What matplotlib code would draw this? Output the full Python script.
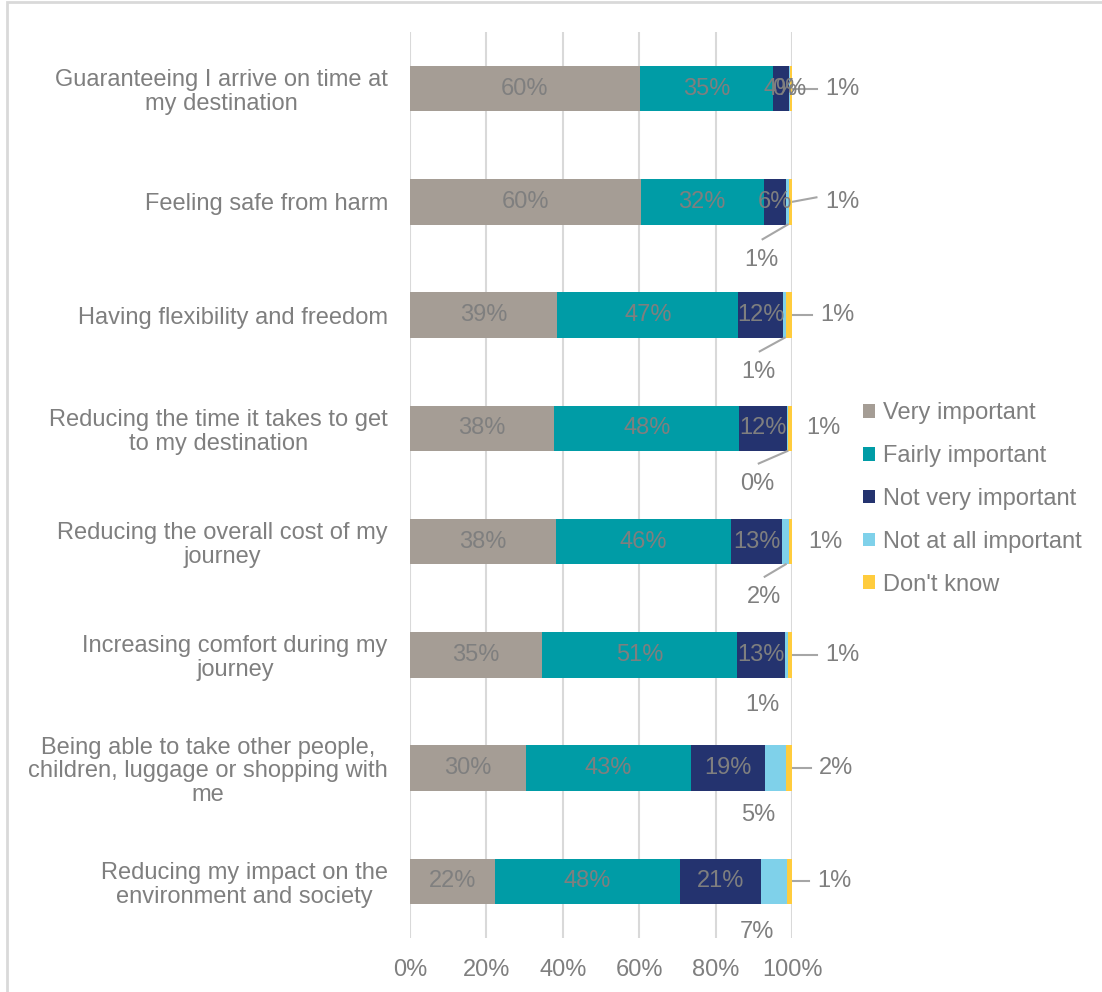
import numpy as np
import matplotlib.pyplot as plt
from matplotlib.patches import Rectangle

# %% data (percent of respondents)
categories = ['Guaranteeing I arrive on time at\nmy destination',
              'Feeling safe from harm',
              'Having flexibility and freedom',
              'Reducing the time it takes to get\nto my destination',
              'Reducing the overall cost of my\njourney',
              'Increasing comfort during my\njourney',
              'Being able to take other people,\nchildren, luggage or shopping with\nme',
              'Reducing my impact on the\nenvironment and society']
series = ['Very important', 'Fairly important', 'Not very important',
          'Not at all important', "Don't know"]
very_important = [60.2, 60.4, 38.6, 37.8, 38.1, 34.6, 30.4, 22.3]
fairly_important = [34.8, 32.2, 47.3, 48.4, 46.0, 51.0, 43.2, 48.4]
not_very_important = [4.2, 5.9, 11.7, 12.4, 13.4, 12.6, 19.4, 21.2]
not_at_all = [0.3, 0.8, 0.9, 0.4, 1.7, 0.8, 5.4, 6.8]
dont_know = [0.7, 0.7, 1.4, 1.0, 0.8, 1.0, 1.6, 1.3]
xticks = [0, 20, 40, 60, 80, 100]

colors = ['#A59D95', '#009CA6', '#24336F', '#7FD1EA', '#FFCC3D']
txt_col = '#7F7F7F'
grid_col = '#D9D9D9'

# label placement (offsets in data units) for the small segments
# not-at-all label below the bar: (dx from segment middle, dy, leader line?)
nat_pos = [None, (-6.9, 0.51, True), (-6.8, 0.5, True), (-7.8, 0.49, True),
           (-5.8, 0.49, True), (-6.3, 0.44, False), (-4.5, 0.41, False),
           (-4.5, 0.45, False)]
# don't-know label right of bar: (gap to text, leader?)
dk_pos = [(8.6, True), (8.6, True), (7.6, True), (3.6, False),
          (4.3, False), (8.8, True), (7.1, True), (6.6, True)]

plt.rcParams['font.family'] = ['Liberation Sans', 'DejaVu Sans']
fs = 17

fig = plt.figure(figsize=[11.02, 9.92], dpi=100)
ax = fig.add_axes([410/1102, 1-938/992, 382/1102, 906/992])

y = np.arange(len(categories))
data = [very_important, fairly_important, not_very_important, not_at_all, dont_know]
left = np.zeros(len(categories))
for vals, c, name in zip(data, colors, series):
    ax.barh(y, vals, left=left, height=0.4, color=c, label=name,
            linewidth=0, zorder=3)
    left = left + np.array(vals)

# labels inside the three big segments
left = np.zeros(len(categories))
for vals in data[:3]:
    for i, v in enumerate(vals):
        ax.text(left[i] + v/2, i, '%d%%' % round(v), ha='center', va='center',
                fontsize=fs, color=txt_col, zorder=4)
    left = left + np.array(vals)

end = left + np.array(not_at_all) + np.array(dont_know)
for i in range(len(categories)):
    # not at all important
    v = not_at_all[i]
    mid = left[i] + v/2
    if nat_pos[i] is None:
        # inside the bar, overlapping the neighbour label as in the original
        ax.text(mid, i, '%d%%' % round(v), ha='center', va='center',
                fontsize=fs, color=txt_col, zorder=4)
    else:
        dx, dy, lead = nat_pos[i]
        tx = mid + dx
        ax.text(tx, i + dy, '%d%%' % round(v), ha='center', va='center',
                fontsize=fs, color=txt_col, zorder=4)
        if lead:
            ax.plot([mid, tx + 0.3], [i + 0.2, i + dy - 0.18], color='#A6A6A6',
                    lw=1.5, clip_on=False, zorder=4)
    # don't know
    v = dont_know[i]
    gap, lead = dk_pos[i]
    ax.text(end[i] + gap, i, '%d%%' % round(v), ha='left', va='center',
            fontsize=fs, color=txt_col, clip_on=False)
    if lead:
        ax.plot([end[i], end[i] + gap - 2.2], [i, i - (0.04 if i == 1 else 0)],
                color='#A6A6A6', lw=1.5, clip_on=False)

ax.set_xlim(0, 100)
ax.set_ylim(7.5, -0.5)
ax.set_xticks(xticks)
ax.set_xticklabels(['%d%%' % t for t in xticks])
ax.set_yticks(y)
ax.set_yticklabels(categories)
for lab in ax.get_yticklabels():
    lab.set_multialignment('center')
    lab.set_linespacing(1.1)
ax.tick_params(axis='both', length=0, labelsize=fs, labelcolor=txt_col)
ax.tick_params(axis='x', pad=15)
ax.tick_params(axis='y', pad=16)
ax.grid(axis='x', color=grid_col, lw=1.5, zorder=0)
for s in ax.spines.values():
    s.set_visible(False)

leg = fig.legend(loc='center left', bbox_to_anchor=(863/1102, 1-499/992),
                 frameon=False, fontsize=fs, labelcolor=txt_col,
                 handlelength=0.5, handleheight=0.5, handletextpad=0.35,
                 labelspacing=0.88, borderaxespad=0, borderpad=0)

# outer border of the chart area
fig.patches.append(Rectangle((7/1102, -0.1), 1.2, 1-2/992 + 0.1, transform=fig.transFigure,
                             fill=False, ec='#D9D9D9', lw=2))

fig.savefig('out.png', dpi=100)
